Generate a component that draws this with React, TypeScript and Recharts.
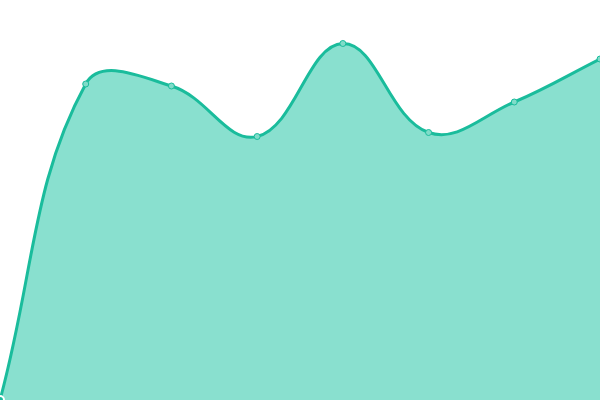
import { AreaChart, Area, XAxis, YAxis } from 'recharts'

const labels = ['1', '2', '3', '4', '5', '6', '7', '8']
const values = [0, 316, 314, 263.5, 356.5, 267.5, 298, 341]

const data = labels.map((label, i) => ({ label, value: values[i] }))

const WIDTH = 600
const HEIGHT = 400

// spline with tension, control points kept inside the plot area
const tensionCurve = (t: number) => (ctx: any) => {
  let xs: number[] = []
  let ys: number[] = []
  let line = NaN
  const clampX = (v: number) => Math.max(0, Math.min(WIDTH, v))
  const clampY = (v: number) => Math.max(0, Math.min(HEIGHT, v))
  return {
    areaStart() {
      line = 0
    },
    areaEnd() {
      line = NaN
    },
    lineStart() {
      xs = []
      ys = []
    },
    point(x: number, y: number) {
      xs.push(+x)
      ys.push(+y)
    },
    lineEnd() {
      const n = xs.length
      if (n) {
        line ? ctx.lineTo(xs[0], ys[0]) : ctx.moveTo(xs[0], ys[0])
        const cps = xs.map((x, i) => {
          const px = i > 0 ? xs[i - 1] : x
          const py = i > 0 ? ys[i - 1] : ys[i]
          const nx = i < n - 1 ? xs[i + 1] : x
          const ny = i < n - 1 ? ys[i + 1] : ys[i]
          const d01 = Math.hypot(x - px, ys[i] - py)
          const d12 = Math.hypot(nx - x, ny - ys[i])
          const sum = d01 + d12 || 1
          const fa = (t * d01) / sum
          const fb = (t * d12) / sum
          return {
            inX: clampX(x - fa * (nx - px)),
            inY: clampY(ys[i] - fa * (ny - py)),
            outX: clampX(x + fb * (nx - px)),
            outY: clampY(ys[i] + fb * (ny - py)),
          }
        })
        for (let i = 0; i < n - 1; i++) {
          ctx.bezierCurveTo(
            cps[i].outX,
            cps[i].outY,
            cps[i + 1].inX,
            cps[i + 1].inY,
            xs[i + 1],
            ys[i + 1],
          )
        }
      }
      if (line || (line !== 0 && n === 1)) ctx.closePath()
      line = 1 - line
    },
  }
}

export default function App() {
  return (
    <div style={{ position: 'absolute', top: 0, left: 0, width: WIDTH, height: HEIGHT }}>
      <AreaChart
        width={WIDTH}
        height={HEIGHT}
        data={data}
        margin={{ top: 0, right: 0, left: 0, bottom: 0 }}
      >
        <XAxis dataKey="label" hide />
        <YAxis hide domain={[0, 400]} />
        <Area
          type={tensionCurve(0.4) as any}
          dataKey="value"
          stroke="#1abc9c"
          strokeWidth={3}
          fill="#89e0cf"
          fillOpacity={1}
          dot={{ r: 3, fill: '#80dcc9', stroke: '#1abc9c', strokeWidth: 1 }}
          isAnimationActive={false}
        />
      </AreaChart>
    </div>
  )
}
